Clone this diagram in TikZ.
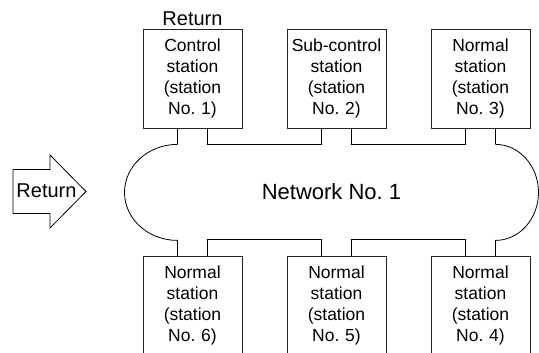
\documentclass[tikz,border=0pt]{standalone}
\usepackage{fontspec}
\setmainfont{Liberation Sans}
\usepackage{xcolor,tikz}
\usetikzlibrary{positioning}
\frenchspacing

\tikzset{
    station/.style={draw=black!85, line width=0.8pt, minimum width=99pt, minimum height=99pt,
        text width=95pt, inner xsep=2pt, align=center, font=\fontsize{17.5}{21}\selectfont},
    ring/.style={line width=1.4pt, black},
    thinline/.style={line width=0.8pt, black}
}

\begin{document}
\begin{tikzpicture}[x=1pt, y=1pt]
    \useasboundingbox (0,0) rectangle (539,353);
    \clip (0,0) rectangle (539,353);

    \node (st1) [station] at (192.5,274.5) {Control\\station\\(station\\No. 1)};
    \node (st2) [station] at (336.5,274.5) {Sub-control\\station\\(station\\No. 2)};
    \node (st3) [station] at (480.5,274.5) {Normal\\station\\(station\\No. 3)};
    \node (st6) [station] at (192.5,47.5) {Normal\\station\\(station\\No. 6)};
    \node (st5) [station] at (336.5,47.5) {Normal\\station\\(station\\No. 5)};
    \node (st4) [station] at (480.5,47.5) {Normal\\station\\(station\\No. 4)};

    \node (ret1) [above=3pt of st1, inner sep=0pt, font=\fontsize{20}{24}\selectfont] {Return};
    \node (net) [font=\fontsize{22}{26}\selectfont] at (331.5,161) {Network No. 1};

    \draw[thinline] (13,139.5) -- (50,139.5) -- (50,125) -- (86,161.5) -- (50,198) -- (50,183.5) -- (13,183.5) -- cycle;
    \node (ret2) [inner sep=0pt, font=\fontsize{20}{24}\selectfont] at (46.5,162) {Return};

    \draw[ring] ([xshift=15pt]st1.south) -- ++(0,-16pt) -| ([xshift=-15pt]st2.south);
    \draw[ring] ([xshift=15pt]st2.south) -- ++(0,-16pt) -| ([xshift=-15pt]st3.south);
    \draw[ring] ([xshift=15pt]st6.north) -- ++(0,16pt) -| ([xshift=-15pt]st5.north);
    \draw[ring] ([xshift=15pt]st5.north) -- ++(0,16pt) -| ([xshift=-15pt]st4.north);

    \draw[ring] ([xshift=-15pt]st1.south) -- ++(0,-16pt) coordinate (lt);
    \draw[thinline] (lt) arc[start angle=90, end angle=270, x radius=53pt, y radius=48pt] coordinate (lb);
    \draw[ring] (lb) -- ([xshift=-15pt]st6.north);

    \draw[ring] ([xshift=15pt]st3.south) -- ++(0,-16pt) coordinate (rt);
    \draw[thinline] (rt) arc[start angle=90, end angle=-90, x radius=43pt, y radius=48pt] coordinate (rb);
    \draw[ring] (rb) -- ([xshift=15pt]st4.north);
\end{tikzpicture}
\end{document}
